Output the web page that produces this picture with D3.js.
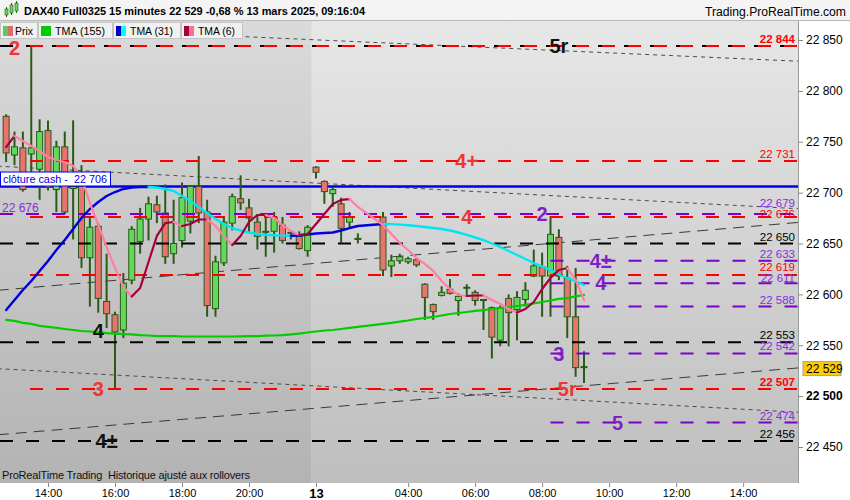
<!DOCTYPE html>
<html>
<head>
<meta charset="utf-8">
<script src="https://cdn.jsdelivr.net/npm/d3@7"></script>
<style>
    body { margin: 0; background: #fff; }
    svg { display: block; font-family: "Liberation Sans", Arial, sans-serif; }
</style>
</head>
<body>
<svg id="chart" width="850" height="500"></svg>
<script>
// 15 minute bars, index 0 = 12 mars 14:00 (bars 38 and 39 have no trades)
var barIdx = [-5, -4, -3, -2, -1, 0, 1, 2, 3, 4, 5, 6, 7, 8, 9, 10, 11, 12, 13, 14, 15, 16, 17, 18, 19, 20,
    21, 22, 23, 24, 25, 26, 27, 28, 29, 30, 31, 32, 33, 34, 35, 36, 37,
    40, 41, 42, 43, 44, 45, 46, 47, 48, 49, 50, 51, 52, 53, 54, 55, 56, 57, 58, 59, 60, 61, 62, 63, 64];
var opens = [22775, 22737, 22744, 22738, 22723, 22761, 22703, 22745, 22706, 22706, 22636, 22667, 22593, 22580, 22565, 22614,
    22652, 22674, 22688, 22680, 22640, 22653, 22672, 22706, 22681, 22586, 22631, 22670, 22694, 22685, 22671, 22662, 22662,
    22668, 22661, 22657, 22643, 22725, 22711, 22699, 22689, 22671, 22655,
    22676, 22628, 22633, 22632, 22634, 22610, 22590, 22599, 22605, 22594, 22607, 22602, 22595, 22587, 22555, 22596, 22585,
    22595, 22618, 22627, 22618, 22656, 22616, 22578, 22528];
var highs = [22777, 22760, 22760, 22844, 22772, 22771, 22751, 22760, 22771, 22727, 22675, 22670, 22640, 22583, 22621, 22667,
    22685, 22696, 22697, 22708, 22693, 22710, 22707, 22736, 22693, 22638, 22677, 22699, 22717, 22694, 22679, 22678, 22681,
    22676, 22663, 22662, 22668, 22726, 22712, 22705, 22695, 22681, 22660,
    22681, 22639, 22640, 22637, 22636, 22611, 22591, 22608, 22615, 22601, 22610, 22604, 22595, 22588, 22589, 22600, 22603,
    22612, 22644, 22641, 22677, 22664, 22628, 22626, 22544];
var lows = [22730, 22727, 22701, 22718, 22693, 22702, 22681, 22679, 22654, 22626, 22588, 22582, 22567, 22507, 22557, 22610,
    22640, 22653, 22670, 22630, 22630, 22646, 22660, 22670, 22578, 22578, 22628, 22663, 22683, 22660, 22644, 22637, 22641,
    22650, 22654, 22644, 22637, 22714, 22689, 22686, 22651, 22666, 22650,
    22618, 22617, 22630, 22630, 22627, 22575, 22575, 22598, 22600, 22579, 22598, 22589, 22565, 22537, 22549, 22549, 22555,
    22588, 22617, 22578, 22578, 22614, 22557, 22519, 22513];
var closes = [22739, 22745, 22703, 22744, 22760, 22705, 22745, 22681, 22704, 22636, 22666, 22596, 22581, 22563, 22611, 22664,
    22674, 22689, 22681, 22637, 22650, 22695, 22706, 22680, 22589, 22632, 22671, 22696, 22690, 22675, 22657, 22661, 22676,
    22653, 22660, 22645, 22666, 22720, 22701, 22703, 22665, 22676, 22655,
    22624, 22633, 22637, 22635, 22629, 22597, 22583, 22602, 22601, 22598, 22606, 22594, 22594, 22558, 22587, 22582, 22597,
    22604, 22628, 22618, 22659, 22618, 22578, 22528, 22529];

// moving averages, one value per bar
var tma155 = [22575, 22574, 22572, 22571, 22569, 22568, 22567, 22566, 22565, 22564, 22563.5, 22563, 22562, 22561.5, 22561,
    22560.6, 22560, 22559.6, 22559, 22559, 22559, 22558.6, 22558.6, 22558.6, 22558.6, 22558.6, 22558.6, 22558.6, 22558.8,
    22559, 22559, 22559.4, 22559.6, 22560, 22560.6, 22561.5, 22562.5, 22563.5, 22564.5, 22565, 22566, 22567, 22568,
    22571, 22572, 22573.2, 22574.3, 22575.8, 22576.8, 22577.8, 22579.2, 22580.7, 22581.7, 22582.7, 22583.7, 22584.6,
    22585.6, 22586.6, 22587.6, 22588.6, 22589.6, 22591, 22592.5, 22594, 22595.5, 22596.4, 22598, 22599.4];
var tma31 = [22584.6, 22594.5, 22604.3, 22613.1, 22622.9, 22632.8, 22643.6, 22653.4, 22664.3, 22675.1, 22683.9, 22690.8,
    22696.7, 22700.6, 22703.6, 22705, 22705.5, 22705.5, 22705, 22703.6, 22701.6, 22696.7, 22691.8, 22685.9, 22680, 22674.1,
    22669.2, 22665.2, 22662.8, 22660.8, 22659.3, 22658.6, 22658.1, 22657.7, 22657.6, 22657.9, 22658.8, 22659.8, 22660.3,
    22660.8, 22662.8, 22665.2, 22667.2,
    22669.2, 22669, 22668.6, 22668, 22667.2, 22666.2, 22665.2, 22664.3, 22662.8, 22660.8, 22658.4, 22655.9, 22653.4, 22650,
    22646.6, 22642.6, 22638.7, 22634.8, 22630.8, 22627.4, 22624, 22619.5, 22616.1, 22612.7, 22609.2];
var tma6 = [22744.8, 22755.7, 22750.7, 22745.8, 22740.9, 22735, 22732.1, 22730.1, 22726.2, 22714.4, 22689.8, 22668.2,
    22646.6, 22625.9, 22607.2, 22597.9, 22606.3, 22631.8, 22657.4, 22670.1, 22671.1, 22667.2, 22669.2, 22673.6, 22673.6,
    22667.2, 22657.4, 22648.5, 22657.4, 22671.1, 22678, 22678, 22675.1, 22668.2, 22662.3, 22658.4, 22659.3, 22669.2, 22679,
    22688.8, 22692.8, 22693.7, 22685.9,
    22668.2, 22659.3, 22650.5, 22643.6, 22635.7, 22629.9, 22623, 22613.1, 22605.3, 22599.4, 22598.4, 22598.9, 22598.9,
    22594.5, 22590.5, 22585.6, 22582.2, 22585.6, 22592.5, 22605.3, 22616.1, 22624, 22625.9, 22614.1, 22594.5];

// horizontal levels
var redLevels = [22844, 22731, 22676, 22619, 22507];
var blackLevels = [22844, 22650, 22553, 22456];
var purpleLevels = [22679];
var purpleShortLevels = [22633, 22611, 22588, 22542, 22474];
var shortLevelStart = 60;
var cashClose = 22706;

// trend lines: [index, price] pairs
var dottedTrends = [[[-6, 22864], [90, 22829]], [[-6, 22726], [90, 22684]], [[-6, 22527], [90, 22484]]];
var dashedTrends = [[[-6, 22462], [90, 22528]], [[-6, 22604], [90, 22671]]];

// signal tags on the levels
var tagText = ["2", "5r", "4+", "4", "2", "4±", "4", "3", "5r", "3", "4", "4±", "5"];
var tagIdx = [-4, 61, 50, 50, 59, 66, 66, 61, 62, 6, 6, 7, 68];
var tagPrice = [22842, 22844, 22731, 22676, 22679, 22633, 22611, 22542, 22507, 22507, 22564, 22456, 22474];
var tagKind = ["red", "black", "red", "red", "purple", "purple", "purple", "purple", "red", "red", "black", "black", "purple"];

// axes
var priceTicks = [22450, 22500, 22550, 22600, 22650, 22700, 22750, 22800, 22850];
var timeTickIdx = [0, 8, 16, 24, 32, 43, 51, 59, 67, 75, 83];
var timeTickLabels = ["14:00", "16:00", "18:00", "20:00", "13", "04:00", "06:00", "08:00", "10:00", "12:00", "14:00"];
var dayBreak = 31.5;

var title = "DAX40 Full0325 15 minutes 22 529 -0,68 % 13 mars 2025, 09:16:04";

var colors = { red: "#ff0000", black: "#000000", purple: "#7a00cc" };
var tagColors = { red: "#ee3434", black: "#111111", purple: "#7f1fc6" };

var plotL = 0, plotR = 798, plotT = 21, plotB = 483;

var fr = d3.formatLocale({ decimal: ",", thousands: " ", grouping: [3], currency: ["", ""] });
var fmt = fr.format(",");

var x = d3.scaleLinear().domain([0, 1]).range([48, 56.375]);
var y = d3.scaleLinear().domain([22450, 22850]).range([447, 40]);

var svg = d3.select("#chart");
var defs = svg.append("defs");

function grad(id, top, bottom) {
    var g = defs.append("linearGradient").attr("id", id)
        .attr("x1", 0).attr("y1", 0).attr("x2", 0).attr("y2", 1);
    g.append("stop").attr("offset", "0%").attr("stop-color", top);
    g.append("stop").attr("offset", "100%").attr("stop-color", bottom);
}
grad("bgOld", "#dadada", "#b3b3b3");
grad("bgNew", "#e7e7e7", "#bebebe");

defs.append("clipPath").attr("id", "plotClip")
    .append("rect").attr("x", plotL).attr("y", plotT)
    .attr("width", plotR - plotL).attr("height", plotB - plotT);

// backgrounds
svg.append("rect").attr("width", 850).attr("height", 500).attr("fill", "#ffffff");
svg.append("rect").attr("x", plotL).attr("y", plotT)
    .attr("width", x(dayBreak) - plotL).attr("height", plotB - plotT).attr("fill", "url(#bgOld)");
svg.append("rect").attr("x", x(dayBreak)).attr("y", plotT)
    .attr("width", plotR - x(dayBreak)).attr("height", plotB - plotT).attr("fill", "url(#bgNew)");

var plot = svg.append("g").attr("clip-path", "url(#plotClip)");

//Trend lines
var tl = d3.line().x(d => x(d[0])).y(d => y(d[1]));
plot.selectAll(".dotted").data(dottedTrends).enter().append("path")
    .attr("d", tl).attr("fill", "none").attr("stroke", "#4a4a4a")
    .attr("stroke-width", 1).attr("stroke-dasharray", "4,4");
plot.selectAll(".dashed").data(dashedTrends).enter().append("path")
    .attr("d", tl).attr("fill", "none").attr("stroke", "#3a3a3a")
    .attr("stroke-width", 1).attr("stroke-dasharray", "11,7");

//Cash close line
plot.append("line").attr("x1", plotL).attr("x2", plotR)
    .attr("y1", y(cashClose)).attr("y2", y(cashClose))
    .attr("stroke", "#0000e6").attr("stroke-width", 2.4);

//Candles
var bars = barIdx.map((d, k) => ({ i: d, o: opens[k], h: highs[k], l: lows[k], c: closes[k] }));
var cg = plot.append("g");
cg.selectAll(".wick").data(bars).enter().append("line")
    .attr("x1", d => x(d.i)).attr("x2", d => x(d.i))
    .attr("y1", d => y(d.h)).attr("y2", d => y(d.l))
    .attr("stroke", "#2b5a18").attr("stroke-width", 2);
cg.selectAll(".body").data(bars).enter().append("rect")
    .attr("x", d => x(d.i) - 3).attr("width", 6)
    .attr("y", d => y(Math.max(d.o, d.c)))
    .attr("height", d => Math.max(1, Math.abs(y(d.o) - y(d.c))))
    .attr("fill", d => d.c >= d.o ? "#62d95a" : "#e9736f")
    .attr("stroke", "#2b5a18").attr("stroke-width", 1);

//Horizontal levels
function levels(vals, color, fromX) {
    plot.selectAll(null).data(vals).enter().append("line")
        .attr("x1", fromX).attr("x2", plotR)
        .attr("y1", d => y(d)).attr("y2", d => y(d))
        .attr("stroke", color).attr("stroke-width", 2)
        .attr("stroke-dasharray", "13,13");
}
levels(blackLevels, colors.black, plotL);
levels(purpleLevels, colors.purple, plotL);
levels(redLevels, colors.red, 30);
levels(purpleShortLevels, colors.purple, x(shortLevelStart));

//Moving averages with up / down colours
function twoTone(vals, up, down, w) {
    var pts = barIdx.map((d, k) => [x(d), y(vals[k])]);
    var runs = [], cur = null;
    for (var k = 1; k < pts.length; k++) {
        var c = vals[k] >= vals[k - 1] ? up : down;
        if (!cur || cur.c !== c) { cur = { c: c, pts: [pts[k - 1]] }; runs.push(cur); }
        cur.pts.push(pts[k]);
    }
    plot.selectAll(null).data(runs).enter().append("path")
        .attr("d", r => d3.line()(r.pts)).attr("fill", "none")
        .attr("stroke", r => r.c).attr("stroke-width", w)
        .attr("stroke-linejoin", "round").attr("stroke-linecap", "round");
}
twoTone(tma155, "#00cc00", "#00cc00", 2.2);
twoTone(tma31, "#0000dd", "#00e6f0", 2.4);
twoTone(tma6, "#a3003c", "#ff7fa2", 2.2);

//Level price labels (right side, inside the plot), pushed apart when they collide
var rightLabels = [];
redLevels.forEach(p => rightLabels.push({ p: p, k: "red" }));
blackLevels.filter(p => p !== 22844).forEach(p => rightLabels.push({ p: p, k: "black" }));
purpleLevels.concat(purpleShortLevels).forEach(p => rightLabels.push({ p: p, k: "purple" }));
rightLabels.forEach(d => d.by = y(d.p) - 3);
rightLabels.sort((a, b) => a.by - b.by);
for (var it = 0; it < 20; it++) {
    for (var k = 1; k < rightLabels.length; k++) {
        var gap = rightLabels[k].by - rightLabels[k - 1].by;
        if (gap < 11) {
            var push = (11 - gap) / 2;
            rightLabels[k - 1].by -= push;
            rightLabels[k].by += push;
        }
    }
}
plot.selectAll(".lvl").data(rightLabels).enter().append("text")
    .attr("x", 795).attr("y", d => d.by)
    .attr("text-anchor", "end").attr("font-size", 11.5)
    .attr("font-weight", d => (d.p === 22844 || d.p === 22507) ? "bold" : "normal")
    .attr("fill", d => d.k === "red" ? "#ff0000" : d.k === "purple" ? "#8a2be2" : "#000")
    .text(d => fmt(d.p));

// left label of the purple level
plot.append("text").attr("x", 2).attr("y", y(purpleLevels[0]) - 2)
    .attr("font-size", 12).attr("fill", "#8a2be2").text(fmt(22676));

//Signal tags
plot.selectAll(".tag").data(tagText).enter().append("text")
    .attr("x", (d, k) => x(tagIdx[k])).attr("y", (d, k) => y(tagPrice[k]))
    .attr("dy", "0.36em").attr("text-anchor", "middle")
    .attr("font-size", 20).attr("font-weight", "bold")
    .attr("fill", (d, k) => tagColors[tagKind[k]])
    .text(d => d);

//Cash close box
var cash = svg.append("g");
cash.append("rect").attr("x", 0.5).attr("y", y(cashClose) - 14.5).attr("width", 110).attr("height", 14)
    .attr("fill", "#ffffff").attr("stroke", "#0000e6").attr("stroke-width", 1);
cash.append("text").attr("x", 3).attr("y", y(cashClose) - 3.5)
    .attr("font-size", 11.5).attr("fill", "#0000e6")
    .attr("textLength", 104).attr("lengthAdjust", "spacingAndGlyphs")
    .text("clôture cash -\u00a0\u00a0" + fmt(cashClose));

// source note
svg.append("text").attr("x", 2).attr("y", 479).attr("font-size", 11).attr("fill", "#111")
    .attr("textLength", 248).text("ProRealTime Trading\u00a0\u00a0Historique ajusté aux rollovers");

//Right axis
var yAxis = svg.append("g").attr("transform", "translate(" + plotR + ",0)")
    .call(d3.axisRight(y).tickValues(priceTicks).tickFormat(fmt).tickSize(5).tickPadding(3));
yAxis.select(".domain").attr("stroke", "#9a9a9a").attr("d", "M0.5," + plotT + "V" + plotB);
yAxis.selectAll(".tick line").attr("stroke", "#888");
yAxis.selectAll("text").attr("font-size", 12).attr("fill", "#000")
    .attr("font-family", "'Liberation Sans', Arial, sans-serif")
    .attr("font-weight", d => d === 22500 ? "bold" : "normal");

// last price marker
var last = closes[closes.length - 1];
svg.append("rect").attr("x", 803).attr("y", y(last) - 5).attr("width", 38).attr("height", 14)
    .attr("fill", "#ffcc00").attr("stroke", "#a0a0a0");
svg.append("text").attr("x", 806).attr("y", y(last) + 6.5).attr("font-size", 12).attr("fill", "#000")
    .text(fmt(last));

//Bottom axis
var xAxis = svg.append("g").attr("transform", "translate(0," + plotB + ")")
    .call(d3.axisBottom(x).tickValues(timeTickIdx).tickFormat((d, k) => timeTickLabels[k]).tickSize(4).tickPadding(2));
xAxis.select(".domain").remove();
xAxis.selectAll(".tick line").attr("stroke", "#888");
xAxis.selectAll("text").attr("fill", "#000")
    .attr("font-family", "'Liberation Sans', Arial, sans-serif")
    .attr("font-weight", (d, k) => timeTickLabels[k] === "13" ? "bold" : "normal")
    .attr("font-size", (d, k) => timeTickLabels[k] === "13" ? 13 : 11);

//Header
var head = svg.append("g");
head.append("rect").attr("width", 850).attr("height", plotT).attr("fill", "#f4f4f4");
head.append("line").attr("x1", 0).attr("x2", 850).attr("y1", plotT - 0.5).attr("y2", plotT - 0.5)
    .attr("stroke", "#b8b8b8");
[[5, 9, 6], [10, 5, 8], [15, 3, 8]].forEach(function (c) {
    head.append("line").attr("x1", c[0] + 1.5).attr("x2", c[0] + 1.5).attr("y1", c[1] - 2).attr("y2", c[1] + c[2] + 2)
        .attr("stroke", "#2b5a18");
    head.append("rect").attr("x", c[0]).attr("y", c[1]).attr("width", 3).attr("height", c[2])
        .attr("fill", "#62d95a").attr("stroke", "#2b5a18").attr("stroke-width", 0.6);
});
head.append("text").attr("x", 24).attr("y", 15).attr("font-size", 11.5).attr("font-weight", "bold")
    .attr("fill", "#000").attr("textLength", 341).attr("lengthAdjust", "spacingAndGlyphs").text(title);
head.append("text").attr("x", 846).attr("y", 16).attr("text-anchor", "end").attr("font-size", 12.5)
    .attr("fill", "#000").attr("textLength", 141).attr("lengthAdjust", "spacingAndGlyphs")
    .text("Trading.ProRealTime.com");

//Legend
var legendNames = ["Prix", "TMA (155)", "TMA (31)", "TMA (6)"];
var legendSwatch = [["#5ccc5c", "#e06a6a"], ["#00cc00", "#00cc00"], ["#0000cc", "#00ffff"], ["#a3003c", "#ff6f91"]];
var legendW = [37, 74, 67, 61];
var legendTextW = [18, 50, 43, 37];
var lx = 0;
legendNames.forEach(function (name, k) {
    var g = svg.append("g").attr("transform", "translate(" + lx + "," + (plotT + 1) + ")");
    g.append("rect").attr("x", 0.5).attr("y", 0.5).attr("width", legendW[k]).attr("height", 16)
        .attr("fill", "#f0f0f0").attr("stroke", "#c4c4c4");
    g.append("rect").attr("x", 3).attr("y", 4).attr("width", 5).attr("height", 10).attr("fill", legendSwatch[k][0]);
    g.append("rect").attr("x", 8).attr("y", 4).attr("width", 5).attr("height", 10).attr("fill", legendSwatch[k][1]);
    g.append("text").attr("x", k === 0 ? 15 : 17).attr("y", 13).attr("font-size", 11.5).attr("fill", "#000")
        .attr("textLength", legendTextW[k]).attr("lengthAdjust", "spacingAndGlyphs").text(name);
    lx += legendW[k] + 1;
});
</script>
</body>
</html>
